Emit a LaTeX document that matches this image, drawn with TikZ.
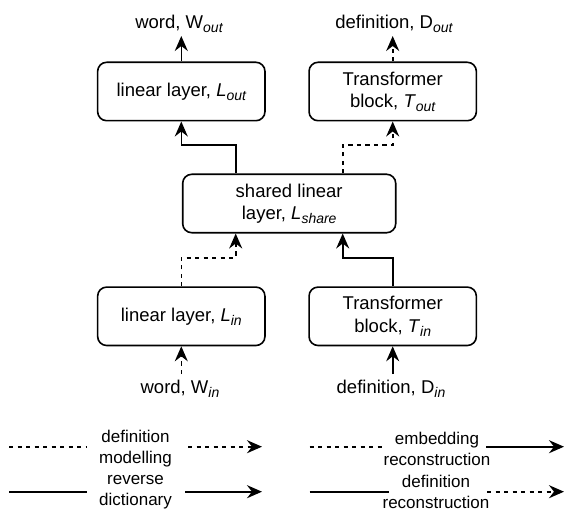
\documentclass[tikz,border=0pt]{standalone}
\usepackage{fontspec}
\setmainfont{Liberation Sans}
\usetikzlibrary{arrows.meta}
\newcommand{\sbs}[1]{\raisebox{-4pt}{\fontsize{14}{14}\selectfont\itshape #1}}
\begin{document}
\begin{tikzpicture}[x=1pt,y=-1pt,
  box/.style={draw, rounded corners=9pt, line width=1.6pt, minimum width=167.3pt, minimum height=58.4pt, align=center, inner sep=0pt, font=\fontsize{18.5}{22.2}\selectfont},
  lbl/.style={inner sep=0pt, font=\fontsize{18.5}{22.2}\selectfont},
  leg/.style={inner sep=0pt, align=center, font=\fontsize{17}{20.8}\selectfont},
  plain/.style={line width=1.6pt},
  dsh/.style={line width=1.6pt, dash pattern=on 4.25pt off 4.25pt},
  tip/.style={-{Stealth[length=15pt,width=13pt,inset=5pt]}}
]
\useasboundingbox (0,0) rectangle (566,511);

% boxes
\node[box] (Lout) at (181.3,91.5) {linear layer, \textit{L}\sbs{out}};
\node[box] (Tout) at (392.7,91.5) {Transformer\\block, \textit{T}\sbs{out}};
\node[box, minimum width=213pt] (Share) at (289.2,203.5) {shared linear\\layer, \textit{L}\sbs{share}};
\node[box] (Lin) at (181.3,316.3) {linear layer, \textit{L}\sbs{in}};
\node[box] (Tin) at (392.7,316.3) {Transformer\\block, \textit{T}\sbs{in}};

% outer labels
\node[lbl, anchor=base] (Wout) at (179,28.3) {word, W\sbs{out}};
\node[lbl, anchor=base] (Dout) at (394,28.3) {definition, D\sbs{out}};
\node[lbl, anchor=base] (Win) at (180,393.3) {word, W\sbs{in}};
\node[lbl, anchor=base] (Din) at (391,393.3) {definition, D\sbs{in}};
\coordinate (WoutTip) at (181.3,36);
\coordinate (DoutTip) at (392.7,36);
\coordinate (WinStart) at (181.3,374);
\coordinate (DinStart) at (392.7,374);

% connectors
\draw[plain,tip] (Lout.north) -- (WoutTip);
\draw[dsh,tip] (Tout.north) -- (DoutTip);
\draw[plain,tip] ([xshift=-53.5pt]Share.north) -- ++(0,-28.3) -| (Lout.south);
\draw[dsh,tip] ([xshift=53.5pt]Share.north) -- ++(0,-28.3) -| (Tout.south);
\draw[dsh,tip] (Lin.north) -- ++(0,-28.6) -| ([xshift=-53.5pt]Share.south);
\draw[plain,tip] (Tin.north) -- ++(0,-28.6) -| ([xshift=53.5pt]Share.south);
\draw[dsh,tip] (WinStart) -- (Lin.south);
\draw[plain,tip] (DinStart) -- (Tin.south);

% legend
\node[leg] (DM) at (135.5,449) {definition\\modelling};
\node[leg] (RD) at (135.5,492) {reverse\\dictionary};
\node[leg] (ER) at (437,449) {embedding\\reconstruction};
\node[leg] (DR) at (436,492) {definition\\reconstruction};

\coordinate (a1) at (9,446.7);   \coordinate (a2) at (87,446.7);
\coordinate (a3) at (188,446.7); \coordinate (a4) at (262,446.7);
\coordinate (b1) at (9,491.7);   \coordinate (b2) at (87,491.7);
\coordinate (b3) at (185,491.7); \coordinate (b4) at (262,491.7);
\coordinate (c1) at (309.7,446.7); \coordinate (c2) at (384.7,446.7);
\coordinate (c3) at (486.3,446.7); \coordinate (c4) at (564,446.7);
\coordinate (d1) at (309.7,491.7); \coordinate (d2) at (389,491.7);
\coordinate (d3) at (487,491.7);   \coordinate (d4) at (564,491.7);

\draw[dsh] (a1) -- (a2);
\draw[dsh,tip] (a3) -- (a4);
\draw[plain] (b1) -- (b2);
\draw[plain,tip] (b3) -- (b4);
\draw[dsh] (c1) -- (c2);
\draw[plain,tip] (c3) -- (c4);
\draw[plain] (d1) -- (d2);
\draw[dsh,tip] (d3) -- (d4);
\end{tikzpicture}
\end{document}
